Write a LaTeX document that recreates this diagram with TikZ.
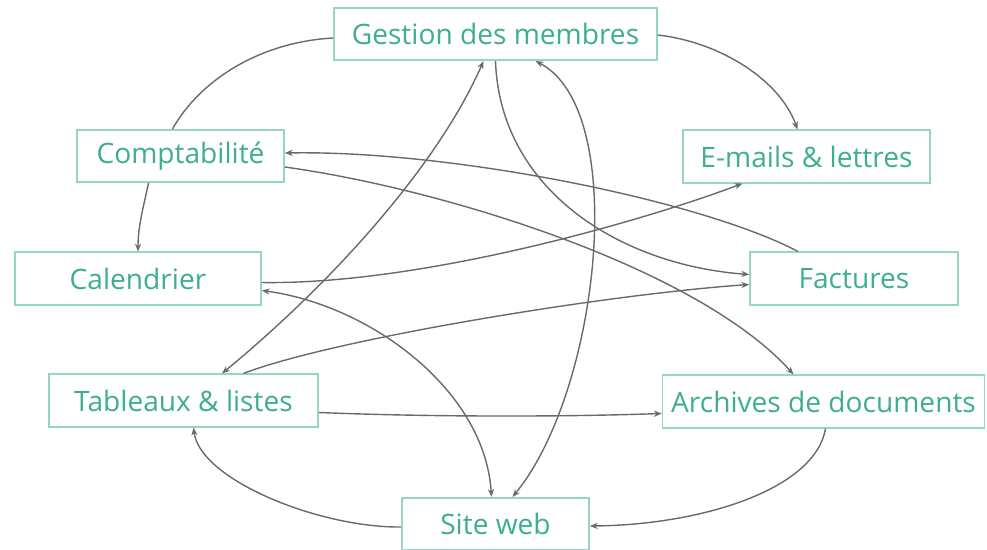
\documentclass[tikz,border=0pt]{standalone}
\usepackage{fontspec}
\setmainfont{Open Sans}
\usetikzlibrary{arrows.meta,calc}
\definecolor{boxc}{HTML}{96D6C6}
\definecolor{txtc}{HTML}{3DAE93}
\definecolor{linec}{HTML}{6A6A6A}
\tikzset{
  box/.style={draw=boxc, line width=0.9pt, text=txtc, fill=white,
    font=\fontsize{16}{19}\selectfont, minimum height=1.05cm, inner sep=0pt},
  conn/.style={draw=linec, line width=0.8pt, -{Stealth[length=4.5pt,width=3.5pt]}},
  conn2/.style={draw=linec, line width=0.8pt, {Stealth[length=4.5pt,width=3.5pt]}-{Stealth[length=4.5pt,width=3.5pt]}},
  conn0/.style={draw=linec, line width=0.8pt}
}
\begin{document}
\begin{tikzpicture}[x=0.02cm,y=-0.02cm]
\useasboundingbox (0,0) rectangle (987,550);
\node[box, minimum width=6.46cm] (gest) at (495.5,34) {Gestion des membres};
\node[box, minimum width=4.14cm] (comp) at (180.5,156) {Comptabilité};
\node[box, minimum width=4.94cm] (email) at (806.5,156.5) {E-mails \& lettres};
\node[box, minimum width=4.92cm] (cal) at (138,278.5) {Calendrier};
\node[box, minimum width=4.16cm] (fact) at (854,278.5) {Factures};
\node[box, minimum width=5.38cm] (tab) at (183.5,400.5) {Tableaux \& listes};
\node[box, minimum width=6.44cm] (arch) at (823.5,401.5) {Archives de documents};
\node[box, minimum width=3.74cm] (site) at (495.5,524) {Site web};

% Gestion -- Comptabilite
\draw[conn0] ($(gest.west)+(0,4)$) .. controls (260,42) and (200,80) .. ($(comp.north)+(-8,0)$);
% Gestion -> E-mails
\draw[conn] ($(gest.east)+(0,1)$) .. controls (720,42) and (780,80) .. ($(email.north)+(-9,0)$);
% Comptabilite -> Calendrier
\draw[conn] ($(comp.south)+(-32,0)$) .. controls (144,205) and (138,225) .. (cal.north);
% Factures -> Comptabilite
\draw[conn] ($(fact.north)+(-56,0)$) .. controls (700,200) and (450,150) .. ($(comp.east)+(0,-3)$);
% Comptabilite -> Archives
\draw[conn] ($(comp.east)+(0,11)$) .. controls (450,190) and (700,270) .. ($(arch.north)+(-30,0)$);
% Calendrier -> E-mails
\draw[conn] ($(cal.east)+(0,4)$) .. controls (420,285) and (640,222) .. ($(email.south)+(-64,0)$);
% Site web <-> Calendrier
\draw[conn2] ($(site.north)+(-4,0)$) .. controls (485,390) and (370,305) .. ($(cal.east)+(0,12)$);
% Gestion <-> Tableaux
\draw[conn2] ($(gest.south)+(-12,0)$) .. controls (438,165) and (333,282) .. ($(tab.north)+(38.5,0)$);
% Tableaux -> Factures
\draw[conn] ($(tab.north)+(60,0)$) .. controls (330,340) and (600,295) .. ($(fact.west)+(0,6)$);
% Gestion -> Factures
\draw[conn] (gest.south) .. controls (500,190) and (620,265) .. ($(fact.west)+(0,-4)$);
% Gestion <-> Site web
\draw[conn2] ($(gest.south)+(40,0)$) .. controls (630,110) and (600,390) .. ($(site.north)+(17,0)$);
% Tableaux -> Archives
\draw[conn] ($(tab.east)+(0,12)$) .. controls (430,417) and (560,417) .. ($(arch.west)+(0,12)$);
% Site web -> Tableaux
\draw[conn] ($(site.west)+(0,3)$) .. controls (320,528) and (200,480) .. ($(tab.south)+(10,0)$);
% Archives -> Site web
\draw[conn] ($(arch.south)+(2,0)$) .. controls (815,490) and (700,525) .. ($(site.east)+(0,2)$);
\end{tikzpicture}
\end{document}
